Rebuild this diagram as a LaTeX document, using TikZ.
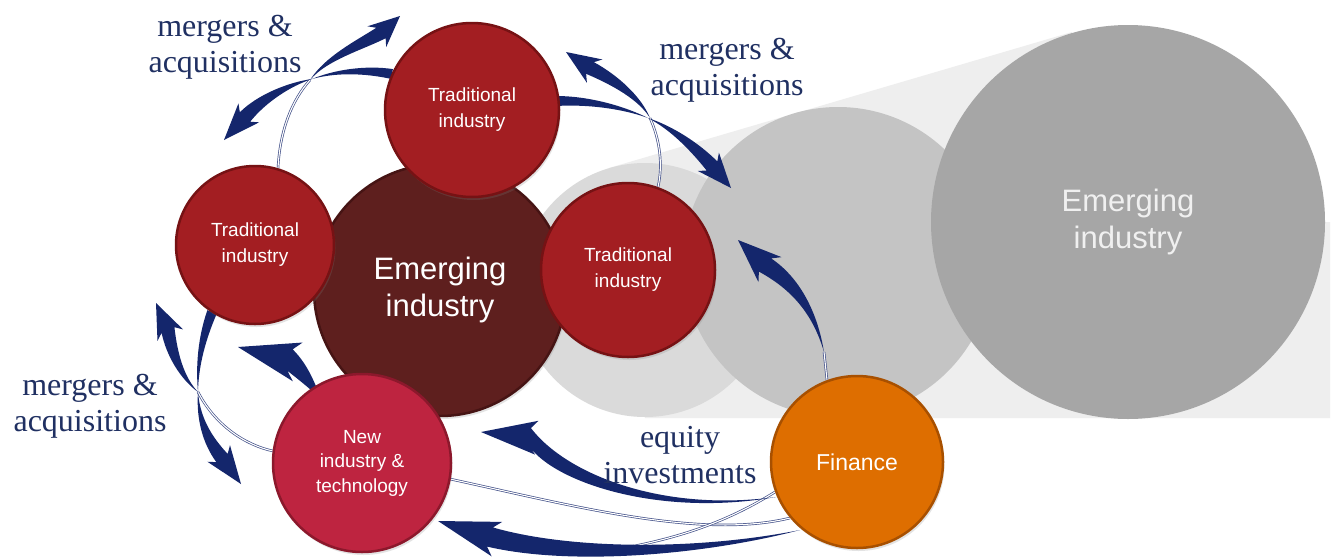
\documentclass[tikz,border=0pt]{standalone}
\usepackage{fontspec}
\setmainfont{Liberation Serif}
\setsansfont{Liberation Sans}
\usetikzlibrary{calc,shadows}
\definecolor{navy}{RGB}{20,38,108}
\definecolor{textnavy}{RGB}{32,48,98}
\definecolor{tradred}{RGB}{163,30,34}
\definecolor{tradrim}{RGB}{118,18,20}
\definecolor{emergc}{RGB}{94,31,30}
\definecolor{emergrim}{RGB}{70,20,20}
\definecolor{newc}{RGB}{190,36,64}
\definecolor{newrim}{RGB}{140,24,44}
\definecolor{finc}{RGB}{222,110,0}
\definecolor{finrim}{RGB}{168,80,0}
\definecolor{bandc}{RGB}{238,238,238}
\definecolor{glight}{RGB}{218,218,218}
\definecolor{gmed}{RGB}{196,196,196}
\definecolor{gbig}{RGB}{166,166,166}
% tapered curved arrow: P0 P1 P2 P3 tip halfwidth headhalfwidth
\newcommand\carrow[7]{%
\coordinate (hbk) at ($(#4)!-0.4*#7!(#5)$);
\fill[navy] (#1) .. controls ($(#2)!#6*0.3!90:(#3)$) and ($(#3)!#6*0.8!90:(#4)$) .. ($(#4)!#6!90:(#5)$)
 -- ($(hbk)!#7!90:(#5)$) -- (#5) -- ($(hbk)!#7!-90:(#5)$) -- ($(#4)!#6!-90:(#5)$)
 .. controls ($(#3)!#6*0.8!-90:(#4)$) and ($(#2)!#6*0.3!-90:(#3)$) .. (#1) -- cycle;}
% tapered band without head: thin end P0, thick end P3
\newcommand\cband[5]{%
\fill[navy] (#1) .. controls ($(#2)!#5*0.3!90:(#3)$) and ($(#3)!#5*0.8!90:(#4)$) .. ($(#4)!#5!-90:(#3)$)
 -- ($(#4)!#5!90:(#3)$)
 .. controls ($(#3)!#5*0.8!-90:(#4)$) and ($(#2)!#5*0.3!-90:(#3)$) .. (#1) -- cycle;}
\begin{document}
\begin{tikzpicture}[x=1pt,y=-1pt,
  circ/.style={circle, inner sep=0pt, align=center, text=white, line width=2.5pt,
    drop shadow={shadow xshift=1.5pt, shadow yshift=-3pt, opacity=0.22}},
  trad/.style={circ, fill=tradred, draw=tradrim, font=\sffamily\fontsize{19}{26}\selectfont},
  gcirc/.style={circle, inner sep=0pt, align=center},
  lbl/.style={text=textnavy, align=center, inner sep=0pt, font=\fontsize{32}{36}\selectfont},
  thinback/.style={draw=navy!80, double=white, double distance=1.1pt, line width=0.7pt}]
\useasboundingbox (0,0) rectangle (1337,557);
\fill[white] (0,0) rectangle (1337,557);
% funnel band
\fill[bandc] (609,168) -- (1072,32) -- (1128,222) -- (1330,222) -- (1330,418) -- (645,418) -- (645,290) -- cycle;
\node[gcirc, fill=glight, minimum size=254pt] (gLight) at (645,290) {};
\node[gcirc, fill=gmed, minimum size=310pt] (gMed) at (838,262) {};
\node[gcirc, fill=gbig, minimum size=394pt, text=white!94!black,
  font=\sffamily\fontsize{31}{37}\selectfont] (gBig) at (1128,222) {Emerging\\industry};
% thin back ribbons
\draw[thinback] (310,80) .. controls (292,100) and (280,130) .. (278,168);
\draw[thinback] (650,118) .. controls (660,140) and (663,165) .. (658,187);
\draw[thinback] (198,392) .. controls (215,425) and (245,445) .. (273,451);
\draw[thinback] (824,352) -- (827,380);
\draw[thinback] (450,479) .. controls (570,505) and (700,540) .. (790,518);
\draw[thinback] (775,492) .. controls (730,520) and (680,540) .. (600,552);
% dark back bands
\cband{312,79}{335,71}{365,69}{392,74}{5pt}
\cband{648,118}{625,108}{590,100}{556,101}{5pt}
\cband{198,392}{197,365}{202,338}{212,312}{5pt}
% arrows
\carrow{310,80}{326,58}{360,45}{381,33}{400,16}{7pt}{14pt}
\carrow{312,79}{290,84}{262,98}{245,117}{224,140}{7pt}{14pt}
\carrow{650,118}{640,98}{615,80}{590,68}{566,52}{7pt}{14pt}
\carrow{648,118}{672,128}{695,147}{712,166}{731,188}{7pt}{14pt}
\carrow{198,392}{182,378}{172,355}{168,330}{156,303}{7pt}{14pt}
\carrow{198,392}{198,418}{207,440}{222,458}{241,484}{7pt}{14pt}
\carrow{322,400}{312,386}{303,372}{290,360}{238,347}{11pt}{20pt}
\carrow{776,497}{660,515}{560,478}{530,437}{481,432}{9pt}{17pt}
\carrow{800,530}{700,553}{570,558}{490,537}{438,521}{10pt}{18pt}
\carrow{824,352}{815,312}{795,283}{765,265}{738,240}{9pt}{17pt}
% main circles
\node[circ, fill=emergc, draw=emergrim, minimum size=252pt,
  font=\sffamily\fontsize{31}{37}\selectfont] (emerg) at (440,290) {Emerging\\industry};
\node[trad, minimum size=174pt] (trTop) at (472,110) {Traditional\\industry};
\node[trad, minimum size=158pt] (trLeft) at (255,245) {Traditional\\industry};
\node[trad, minimum size=174pt] (trRight) at (628,270) {Traditional\\industry};
\node[circ, fill=newc, draw=newrim, minimum size=178pt,
  font=\sffamily\fontsize{19}{24.5}\selectfont] (newind) at (362,463) {New\\industry \&\\technology};
\node[circ, fill=finc, draw=finrim, minimum size=172pt,
  font=\sffamily\fontsize{23}{28}\selectfont] (fin) at (857,462) {Finance};
% labels
\node[lbl] (lTL) at (225,47) {mergers \&\\acquisitions};
\node[lbl] (lTR) at (727,70) {mergers \&\\acquisitions};
\node[lbl] (lL) at (90,406) {mergers \&\\acquisitions};
\node[lbl] (lEq) at (680,455) {equity\\investments};
\end{tikzpicture}
\end{document}
